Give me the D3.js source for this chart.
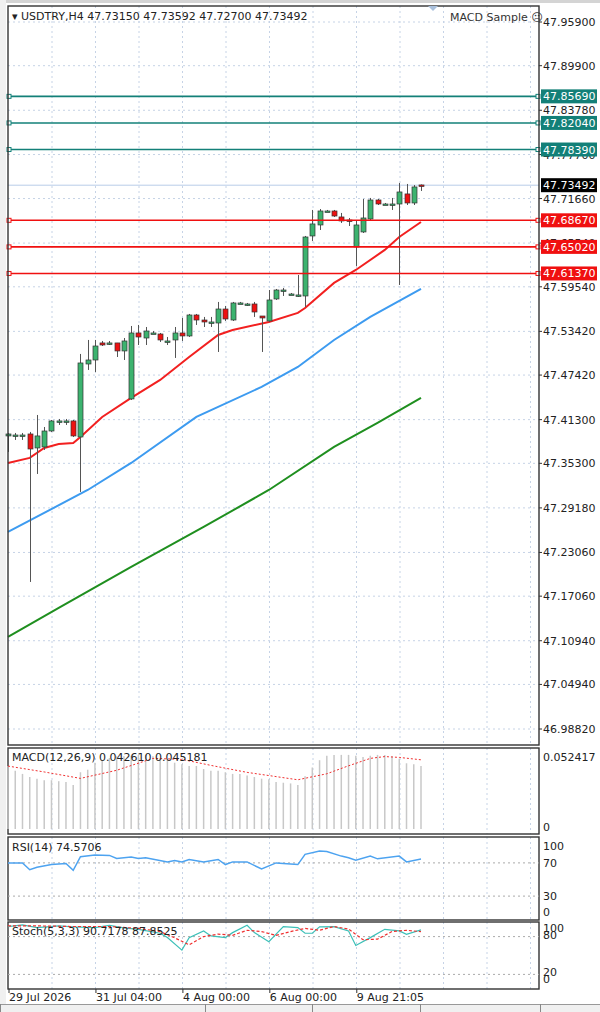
<!DOCTYPE html>
<html><head><meta charset="utf-8">
<script src="https://cdn.jsdelivr.net/npm/d3@7"></script>
<style>body{margin:0;background:#fff}svg{display:block}text{font-family:Tahoma,"DejaVu Sans",sans-serif}</style>
</head><body>
<script>
// ---- DATA ----
const opens  = [47.3906,47.3919,47.3919,47.3933,47.3741,47.3755,47.3974,47.4112,47.4112,47.4112,47.3892,47.4894,47.4949,47.5183,47.5183,47.5183,47.5073,47.4414,47.5320,47.5251,47.5320,47.5306,47.5210,47.5224,47.5320,47.5279,47.5567,47.5498,47.5471,47.5457,47.5649,47.5498,47.5732,47.5718,47.5718,47.5553,47.5485,47.5787,47.5910,47.5855,47.5828,47.5828,47.6652,47.6803,47.6995,47.6995,47.6913,47.6871,47.6501,47.6707,47.6885,47.7146,47.7091,47.7091,47.7091,47.7229,47.7105,47.7352];
const closes = [47.3933,47.3919,47.3919,47.3727,47.3906,47.3974,47.4112,47.4112,47.4112,47.3906,47.4908,47.4949,47.5141,47.5155,47.5183,47.5073,47.5210,47.5320,47.5265,47.5347,47.5320,47.5224,47.5210,47.5320,47.5279,47.5567,47.5498,47.5471,47.5471,47.5649,47.5512,47.5732,47.5732,47.5718,47.5608,47.5526,47.5773,47.5910,47.5910,47.5855,47.5842,47.6638,47.6817,47.6995,47.6995,47.6926,47.6858,47.6858,47.6803,47.6899,47.7146,47.7091,47.7091,47.7091,47.7256,47.7105,47.7325,47.7349];
const highs  = [47.3947,47.3947,47.3947,47.3961,47.4194,47.4029,47.4125,47.4139,47.4139,47.4125,47.5032,47.5224,47.5224,47.5210,47.5210,47.5183,47.5251,47.5416,47.5430,47.5402,47.5347,47.5320,47.5265,47.5402,47.5526,47.5581,47.5581,47.5540,47.5540,47.5746,47.5691,47.5746,47.5746,47.5732,47.5746,47.5540,47.5910,47.5924,47.5938,47.5869,47.6116,47.6652,47.7009,47.7022,47.7009,47.7009,47.6968,47.6899,47.6858,47.7160,47.7174,47.7160,47.7105,47.7174,47.7380,47.7366,47.7352,47.7359];
const lows   = [47.3686,47.3851,47.3851,47.1901,47.3384,47.3714,47.3961,47.4057,47.4057,47.3892,47.3137,47.4812,47.4784,47.5141,47.5155,47.4990,47.4949,47.4400,47.5155,47.5155,47.5306,47.5196,47.5155,47.4977,47.5210,47.5265,47.5430,47.5402,47.5402,47.5059,47.5485,47.5485,47.5718,47.5691,47.5540,47.5059,47.5471,47.5773,47.5828,47.5842,47.5814,47.5677,47.6583,47.6734,47.6981,47.6913,47.6830,47.6789,47.6240,47.6693,47.6871,47.7077,47.7077,47.7009,47.5979,47.7077,47.7077,47.7270];
const maRedIdx = [0,3,5,7,9,10,13,17,21,25,29,31,36,40,41,45,48,52,54,57];
const maRedVal = [47.3535,47.3604,47.3741,47.3796,47.3810,47.3892,47.4167,47.4428,47.4675,47.4990,47.5293,47.5361,47.5471,47.5595,47.5663,47.6007,47.6185,47.6460,47.6638,47.6844];
const maBlueIdx = [0,11,17,26,35,40,45,50,57];
const maBlueVal = [47.2588,47.3164,47.3535,47.4167,47.4579,47.4853,47.5224,47.5540,47.5924];
const maGreenIdx = [0,7,17,27,36,45,51,57];
const maGreenVal = [47.1146,47.1544,47.2107,47.2656,47.3164,47.3755,47.4084,47.4428];
const resistLevels = [47.8569,47.8204,47.7839];
const supportLevels = [47.6867,47.6502,47.6137];
const lastPrice = 47.73492;
const priceTicks = ["47.95900","47.89900","47.83780","47.77700","47.71660","47.65540","47.59540","47.53420","47.47420","47.41300","47.35300","47.29180","47.23060","47.17060","47.10940","47.04940","46.98820"];
const macdHist = [0.0451,0.0417,0.0394,0.0372,0.0360,0.0349,0.0349,0.0342,0.0337,0.0315,0.0406,0.0424,0.0474,0.0492,0.0508,0.0520,0.0520,0.0524,0.0530,0.0530,0.0520,0.0508,0.0492,0.0474,0.0463,0.0451,0.0451,0.0429,0.0417,0.0417,0.0406,0.0394,0.0394,0.0383,0.0372,0.0360,0.0356,0.0337,0.0331,0.0326,0.0315,0.0378,0.0440,0.0492,0.0524,0.0530,0.0530,0.0530,0.0524,0.0515,0.0524,0.0530,0.0530,0.0520,0.0502,0.0470,0.0463,0.0451];
const macdSigIdx = [0,5,10,15,20,24,28,33,40,44,47,50,52,54,57];
const macdSigVal = [0.0450,0.0408,0.0362,0.0420,0.0505,0.0498,0.0455,0.0405,0.0352,0.0395,0.0452,0.0505,0.0518,0.0512,0.0495];
const rsiIdx = [0,2,3,4,6,8,9,10,12,14,15,17,18,19,22,23,24,25,27,29,30,31,33,35,37,39,40,41,43,44,46,47,48,50,51,54,55,57];
const rsiVal = [70,70,61.8,64.7,68.0,69.2,61.0,77.4,79.4,79.0,75.4,77.0,75.4,76.2,71.2,72.9,71.2,74.1,71.2,74.1,68.0,71.2,71.2,62.6,70.0,68.8,68.0,80.3,84.4,83.6,78.2,76.2,73.3,78.2,74.9,78.2,71.2,74.6];
const stMainIdx = [0,2,4,7,9,12,14,16,18,21,22,24,25,27,28,30,31,33,34,36,38,40,41,42,43,45,47,48,50,52,54,55,57];
const stMainVal = [95.9,98.6,94.3,97,95.4,94.3,97.9,93.8,91.6,85.3,78.4,58.6,78.4,88.9,81,78.4,86.3,97.9,86.3,71.9,95.9,94.3,85.3,85.3,95.4,95.9,88.9,66,78.4,91.6,89,83.6,90.7];
const stSigIdx = [0,4,9,14,18,21,23,25,27,29,31,33,35,37,39,41,43,45,47,49,51,53,55,57];
const stSigVal = [97,97,96,96,93,88,78,67,80,84,82,90,88,82,88,93,90,96,92,75,76,88,90,87.9];
const timeLabels = ["29 Jul 2026","31 Jul 04:00","4 Aug 00:00","6 Aug 00:00","9 Aug 21:05"];
const timeIdx = [0,12,24,36,48];

// ---- LAYOUT ----
const W=600,H=1012, L=8, R=539;
const svg=d3.select("body").append("svg").attr("width",W).attr("height",H);
const x=d3.scaleLinear().domain([0,57]).range([8,421]);
const y=d3.scaleLinear().domain([46.9882,47.959]).range([729,22]);
const gridC="#c6d3e6";

// outer chrome
svg.append("rect").attr("x",0).attr("y",0).attr("width",W).attr("height",3).attr("fill","#d4d4d4");
svg.append("rect").attr("x",0).attr("y",1004).attr("width",W).attr("height",8).attr("fill","#f0f0f0");
svg.append("line").attr("x1",0).attr("x2",W).attr("y1",1004.5).attr("y2",1004.5).attr("stroke","#999");
[0,205,312,420,540].forEach(v=>svg.append("line").attr("x1",v+.5).attr("x2",v+.5).attr("y1",1004).attr("y2",1012).attr("stroke","#888"));
svg.append("rect").attr("x",0).attr("y",0).attr("width",6).attr("height",1004).attr("fill","#f0f0f0");

const panels=[[6,745],[748,834],[837,920],[922,989]];
const vgrid=d3.range(52,539,43.5);
panels.forEach(([t,b])=>{
  vgrid.forEach(v=>svg.append("line").attr("x1",v).attr("x2",v).attr("y1",t).attr("y2",b).attr("stroke",gridC).attr("stroke-dasharray","2,3"));
});
// horizontal grid main
priceTicks.forEach(t=>svg.append("line").attr("x1",L).attr("x2",R).attr("y1",y(+t)).attr("y2",y(+t)).attr("stroke",gridC).attr("stroke-dasharray","2,3"));

// MAs
const lineGen=(ys)=>d3.line().x(d=>x(d[0])).y(d=>ys(d[1]));
function drawLine(idx,val,ys,color,w,dash){
  svg.append("path").datum(idx.map((v,i)=>[v,val[i]])).attr("d",lineGen(ys)).attr("fill","none").attr("stroke",color).attr("stroke-width",w).attr("stroke-dasharray",dash||null);
}
drawLine(maGreenIdx,maGreenVal,y,"#1f8f1f",2);
drawLine(maBlueIdx,maBlueVal,y,"#3d9bf0",2);
drawLine(maRedIdx,maRedVal,y,"#f22020",2);

// current price line
svg.append("line").attr("x1",L).attr("x2",R).attr("y1",y(lastPrice)).attr("y2",y(lastPrice)).attr("stroke","#b8cce8");

// candles
const cg=svg.append("g");
opens.forEach((o,i)=>{
  const c=closes[i],cx=Math.round(x(i))+.5;
  cg.append("line").attr("x1",cx).attr("x2",cx).attr("y1",y(highs[i])).attr("y2",y(lows[i])).attr("stroke","#555");
  const top=y(Math.max(o,c)),bot=y(Math.min(o,c));
  cg.append("rect").attr("x",cx-2.5).attr("y",top).attr("width",5).attr("height",Math.max(1.5,bot-top))
    .attr("fill",c>=o?"#3cb36f":"#ee1111").attr("stroke","#333").attr("stroke-width",0.7);
});

// horizontal levels
function level(v,color){
  svg.append("line").attr("x1",L).attr("x2",R).attr("y1",y(v)).attr("y2",y(v)).attr("stroke",color).attr("stroke-width",1.6);
  [L+1,R-1].forEach(px=>svg.append("rect").attr("x",px-2).attr("y",y(v)-2).attr("width",4).attr("height",4).attr("fill","#fff").attr("stroke",color));
}
resistLevels.forEach(v=>level(v,"#138078"));
supportLevels.forEach(v=>level(v,"#f01010"));

// main frame
panels.forEach(([t,b])=>svg.append("rect").attr("x",L).attr("y",t).attr("width",R-L).attr("height",b-t).attr("fill","none").attr("stroke","#333").attr("stroke-width",1.4));

// price axis labels
const ax=svg.append("g").attr("font-size",11).attr("fill","#222");
priceTicks.forEach(t=>{
  ax.append("line").attr("x1",R).attr("x2",R+3).attr("y1",y(+t)).attr("y2",y(+t)).attr("stroke","#333");
  ax.append("text").attr("x",543).attr("y",y(+t)+4).text(t);
});
function tag(v,bg){
  svg.append("rect").attr("x",541).attr("y",y(v)-7).attr("width",56).attr("height",14).attr("fill",bg);
  svg.append("text").attr("x",543).attr("y",y(v)+4).attr("font-size",11).attr("fill","#fff").text(v.toFixed(5));
}
resistLevels.forEach(v=>tag(v,"#138078"));
supportLevels.forEach(v=>tag(v,"#f01010"));
tag(lastPrice,"#000");

// header
svg.append("text").attr("x",12).attr("y",20).attr("font-size",11).attr("fill","#222").text("▾ USDTRY,H4  47.73150 47.73592 47.72700 47.73492");
svg.append("text").attr("x",450).attr("y",21).attr("font-size",11).attr("fill","#333").text("MACD Sample ☹");
svg.append("path").attr("d","M428,6 L438,6 L433,11 Z").attr("fill","#a9c0dc");

// MACD
const ym=d3.scaleLinear().domain([0,0.0565]).range([829,750]);
macdHist.forEach((v,i)=>svg.append("line").attr("x1",x(i)).attr("x2",x(i)).attr("y1",ym(0)).attr("y2",ym(v)).attr("stroke","#c8c8c8").attr("stroke-width",1.5));
drawLine(macdSigIdx,macdSigVal,ym,"#f03030",1,"2,2");
svg.append("text").attr("x",12).attr("y",761).attr("font-size",11).attr("fill","#222").text("MACD(12,26,9) 0.042610 0.045181");
svg.append("text").attr("x",543).attr("y",761).attr("font-size",11).attr("fill","#222").text("0.052417");
svg.append("text").attr("x",543).attr("y",831).attr("font-size",11).attr("fill","#222").text("0");

// RSI
const yr=d3.scaleLinear().domain([0,100]).range([921,838]);
[70,30].forEach(v=>svg.append("line").attr("x1",L).attr("x2",R).attr("y1",yr(v)).attr("y2",yr(v)).attr("stroke","#aaa").attr("stroke-dasharray","2,3"));
drawLine(rsiIdx,rsiVal,yr,"#4da3f0",1.5);
svg.append("text").attr("x",12).attr("y",851).attr("font-size",11).attr("fill","#222").text("RSI(14) 74.5706");
[["100",850],["70",yr(70)+4],["30",yr(30)+4],["0",916]].forEach(([t,p])=>svg.append("text").attr("x",543).attr("y",p).attr("font-size",11).attr("fill","#222").text(t));

// Stoch
const ys=d3.scaleLinear().domain([0,100]).range([987,924]);
[80,20].forEach(v=>svg.append("line").attr("x1",L).attr("x2",R).attr("y1",ys(v)).attr("y2",ys(v)).attr("stroke","#aaa").attr("stroke-dasharray","2,3"));
drawLine(stMainIdx,stMainVal,ys,"#3cc0b8",1.2);
drawLine(stSigIdx,stSigVal,ys,"#f03030",1.2,"3,2");
svg.append("text").attr("x",12).attr("y",935).attr("font-size",11).attr("fill","#222").text("Stoch(5,3,3) 90.7178 87.8525");
[["100",932],["80",939],["20",976],["0",983]].forEach(([t,p])=>svg.append("text").attr("x",543).attr("y",p).attr("font-size",11).attr("fill","#222").text(t));

// time axis
timeLabels.forEach((t,i)=>{
  const px=i===0?9:x(timeIdx[i])+1;
  svg.append("line").attr("x1",px).attr("x2",px).attr("y1",989).attr("y2",993).attr("stroke","#333");
  svg.append("text").attr("x",px).attr("y",1001).attr("font-size",11).attr("fill","#222").text(t);
});
</script>
</body></html>
